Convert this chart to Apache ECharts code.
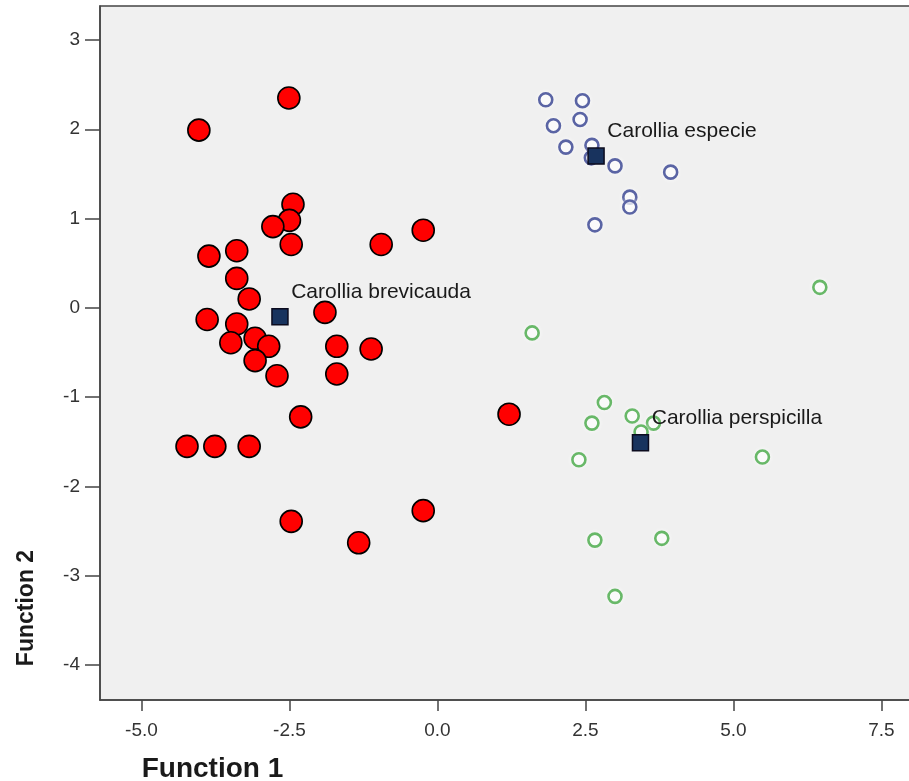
<!DOCTYPE html>
<html><head><meta charset="utf-8">
<script src="https://cdn.jsdelivr.net/npm/echarts@6/dist/echarts.min.js"></script>
<style>html,body{margin:0;padding:0;background:#fff}#c{width:909px;height:781px}</style>
</head><body><div id="c"></div>
<script>
// Function 1 / Function 2 scores by group
const brevicauda = [
  [-2.51,2.35],[-4.03,1.99],[-2.44,1.16],[-2.50,0.98],[-2.78,0.91],[-2.47,0.71],
  [-0.95,0.71],[-0.24,0.87],[-3.86,0.58],[-3.39,0.64],[-3.39,0.33],[-3.18,0.10],
  [-1.90,-0.05],[-3.89,-0.13],[-3.39,-0.18],[-3.49,-0.39],[-3.08,-0.34],[-2.85,-0.43],
  [-3.08,-0.59],[-1.70,-0.43],[-1.12,-0.46],[-2.71,-0.76],[-1.70,-0.74],[-2.31,-1.22],
  [-4.23,-1.55],[-3.76,-1.55],[-3.18,-1.55],[-2.47,-2.39],[-1.33,-2.63],[-0.24,-2.27],
  [1.21,-1.19]
];
const especie = [
  [1.83,2.33],[2.45,2.32],[1.96,2.04],[2.41,2.11],[2.17,1.80],[2.61,1.82],
  [2.60,1.68],[3.00,1.59],[3.94,1.52],[3.25,1.24],[3.25,1.13],[2.66,0.93]
];
const perspicilla = [
  [6.46,0.23],[1.60,-0.28],[2.82,-1.06],[2.61,-1.29],[3.29,-1.21],[3.65,-1.29],
  [3.44,-1.39],[2.39,-1.70],[5.49,-1.67],[2.66,-2.60],[3.79,-2.58],[3.00,-3.23]
];
const centroidNames = ['Carollia brevicauda','Carollia especie','Carollia perspicilla'];
const centroids = [[-2.66,-0.10],[2.68,1.70],[3.43,-1.51]];
const xTicks = [-5,-2.5,0,2.5,5,7.5];
const yTicks = [-4,-3,-2,-1,0,1,2,3];

const chart = echarts.init(document.getElementById('c'), null, {renderer:'canvas'});
const ring = (c) => ({color:'rgba(255,255,255,0.45)', borderColor:c, borderWidth:2.6, opacity:1,
  shadowColor:'rgba(255,255,255,0.9)', shadowBlur:4});
chart.setOption({
  backgroundColor:'#ffffff',
  animation:false,
  grid:{left:100, top:6, right:-2, bottom:81, outerBoundsMode:'none', containLabel:false,
    show:true, backgroundColor:'#f0f0f0', borderColor:'#444', borderWidth:1.5},
  xAxis:{
    type:'value', min:-5.70, max:8.0,
    name:'Function 1', nameLocation:'middle', nameGap:55,
    nameTextStyle:{fontFamily:'Liberation Sans', fontWeight:'bold', fontSize:28, color:'#1a1a1a', padding:[0,586,0,0]},
    axisLine:{show:true, onZero:false, lineStyle:{color:'#444', width:1.5}},
    axisTick:{show:true, length:11, customValues:xTicks, lineStyle:{color:'#444', width:1.5}},
    axisLabel:{customValues:xTicks, margin:21, fontFamily:'Liberation Sans', fontSize:19, color:'#333', formatter:v=>v.toFixed(1)},
    splitLine:{show:false}
  },
  yAxis:{
    type:'value', min:-4.39, max:3.38,
    name:'Function 2', nameLocation:'middle', nameGap:62, nameRotate:90,
    nameTextStyle:{fontFamily:'Liberation Sans', fontWeight:'bold', fontSize:23, color:'#1a1a1a', padding:[0,510,0,0]},
    axisLine:{show:true, onZero:false, lineStyle:{color:'#444', width:1.5}},
    axisTick:{show:true, length:15, customValues:yTicks, lineStyle:{color:'#444', width:1.5}},
    axisLabel:{customValues:yTicks, margin:20, fontFamily:'Liberation Sans', fontSize:19, color:'#333', formatter:v=>String(v)},
    splitLine:{show:false}
  },
  series:[
    {name:'Carollia perspicilla', type:'scatter', data:perspicilla, symbol:'circle', symbolSize:13, itemStyle:ring('#68b868')},
    {name:'Carollia especie', type:'scatter', data:especie, symbol:'circle', symbolSize:13, itemStyle:ring('#5a64a4')},
    {name:'Carollia brevicauda', type:'scatter', data:brevicauda, symbol:'circle', symbolSize:22,
      itemStyle:{color:'#ff0000', borderColor:'#000', borderWidth:1.6, opacity:1}},
    {name:'Group Centroid', type:'scatter', data:centroids.map((c,i)=>({value:c, name:centroidNames[i]})),
      symbol:'rect', symbolSize:16, z:5,
      itemStyle:{color:'#18335e', borderColor:'#0b0b1e', borderWidth:1.5, opacity:1},
      label:{show:true, position:[20,-16], align:'left', verticalAlign:'middle', formatter:p=>p.name,
        fontFamily:'Liberation Sans', fontSize:21, color:'#1a1a1a'}}
  ]
});
</script></body></html>
